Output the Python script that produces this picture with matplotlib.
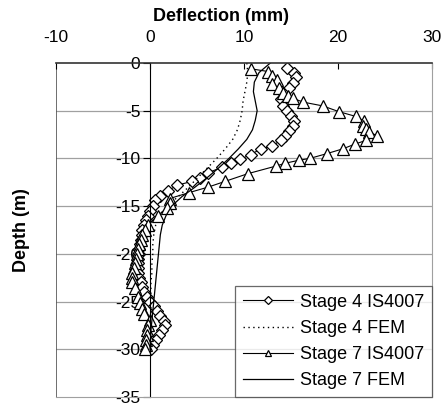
import matplotlib.pyplot as plt

plt.rcParams['font.family'] = ['Liberation Sans', 'DejaVu Sans']
plt.rcParams['axes.unicode_minus'] = False

# Stage 4 IS4007 (diamonds)
s4_depth = [-0.5, -1.0, -1.5, -2.1, -2.6, -3.1, -3.8, -4.5, -5.0, -5.6, -6.1, -6.6, -7.1,
            -7.6, -8.1, -8.7, -9.0, -9.6, -10.1, -10.5, -10.9, -11.5, -12.0, -12.4, -12.8,
            -13.4, -13.9, -14.4, -15.0, -15.5, -16.0, -16.5, -17.0, -17.5, -18.0, -18.5,
            -19.0, -19.5, -20.0, -20.5, -21.0, -21.5, -22.0, -22.5, -23.0, -23.5, -24.0,
            -24.5, -25.0, -25.5, -26.0, -26.5, -27.0, -27.5, -28.0, -28.5, -29.0, -29.5, -30.0]
s4_defl = [14.6, 15.3, 15.5, 15.2, 14.8, 14.2, 13.9, 14.2, 14.6, 15.0, 15.3, 15.2, 14.8,
           14.4, 13.9, 13.0, 11.8, 10.7, 9.6, 8.6, 7.7, 6.2, 5.3, 4.5, 2.9,
           1.9, 1.1, 0.5, 0.3, 0.0, -0.2, -0.4, -0.6, -0.8, -0.9, -1.0,
           -1.1, -1.2, -1.2, -1.3, -1.3, -1.3, -1.3, -1.2, -1.0, -0.9, -0.6,
           -0.3, 0.0, 0.4, 0.7, 1.1, 1.5, 1.6, 1.3, 1.0, 0.6, 0.3, 0.1]

# Stage 4 FEM (dotted)
s4f_depth = [0, -1, -2, -3, -4, -5, -6, -7, -8, -9, -10, -11, -12, -13, -14, -15, -16,
             -17, -18, -19, -20, -21, -22, -23, -24, -25, -26, -27, -28, -29, -30]
s4f_defl = [10.3, 10.4, 10.3, 10.1, 9.9, 9.8, 9.6, 9.3, 8.8, 8.0, 7.1, 6.1, 5.1, 4.1, 3.0,
            1.8, 1.0, 0.6, 0.4, 0.3, 0.3, 0.2, 0.2, 0.1, 0.1, 0.1, 0.1, 0.1, 0.05, 0.0, 0.0]

# Stage 7 IS4007 (triangles)
s7_depth = [-0.6, -0.9, -1.4, -1.8, -2.2, -2.6, -3.1, -3.5, -3.7, -4.1, -4.5, -5.1, -5.6,
            -6.1, -6.6, -6.9, -7.2, -7.6, -8.1, -8.5, -9.0, -9.5, -10.0, -10.2, -10.5,
            -10.8, -11.6, -12.4, -13.0, -13.6, -14.2, -14.7, -15.2, -16.0, -17.0, -17.5,
            -18.0, -18.5, -19.0, -19.5, -20.0, -20.5, -21.0, -21.5, -22.0, -22.5, -23.0,
            -23.6, -24.5, -25.2, -25.8, -26.3, -26.9, -27.5, -28.0, -28.5, -29.0, -29.5, -30.0]
s7_defl = [10.7, 12.6, 13.0, 13.5, 13.0, 13.7, 14.1, 14.7, 15.2, 16.3, 18.4, 20.1, 21.9,
           22.8, 22.7, 23.0, 23.3, 24.1, 23.0, 21.8, 20.5, 18.8, 17.0, 15.8, 14.4,
           13.4, 10.4, 8.0, 6.2, 4.1, 2.1, 2.1, 1.8, 0.8, -0.2, -0.5,
           -0.8, -1.0, -1.2, -1.3, -1.4, -1.5, -1.6, -1.7, -1.9, -1.9, -1.9,
           -1.6, -1.3, -1.1, -0.9, -0.6, 0.0, -0.2, -0.3, -0.3, -0.4, -0.4, -0.5]

# Stage 7 FEM (solid)
s7f_depth = [0, -1, -2, -3, -4, -5, -6, -7, -8, -9, -10, -11, -12, -13, -14, -15, -16,
             -17, -18, -19, -20, -21, -22, -23, -24, -25, -26, -27, -28, -29, -30]
s7f_defl = [12.8, 11.6, 11.1, 11.0, 11.2, 11.4, 11.2, 10.9, 10.3, 9.4, 8.4, 7.3, 6.1, 4.8,
            3.4, 2.3, 1.7, 1.3, 1.1, 1.0, 0.9, 0.8, 0.7, 0.6, 0.5, 0.4, 0.3, 0.2, 0.1, 0.05, 0.0]

fig = plt.figure(figsize=(4.45, 4.08), dpi=100)
ax = fig.add_axes([56 / 445, 11 / 408, 376 / 445, 334 / 408])

ax.plot(s4_defl, s4_depth, color='black', lw=0.8, marker='D', ms=6.5, mfc='white',
        mec='black', mew=0.9, label='Stage 4 IS4007')
ax.plot(s4f_defl, s4f_depth, color='black', lw=1.0, ls=(0, (1, 2.5)), label='Stage 4 FEM')
ax.plot(s7_defl, s7_depth, color='black', lw=0.8, marker='^', ms=8, mfc='white',
        mec='black', mew=0.9, label='Stage 7 IS4007')
ax.plot(s7f_defl, s7f_depth, color='black', lw=0.9, label='Stage 7 FEM')

ax.set_xlim(-10, 30)
ax.set_ylim(-35, 0)
ax.set_xticks([-10, 0, 10, 20, 30])
ax.set_yticks(range(-35, 1, 5))

# horizontal grid
for yv in range(-30, 0, 5):
    ax.axhline(yv, color='#a0a0a0', lw=0.9, zorder=0)

# x axis on top
ax.xaxis.set_ticks_position('top')
ax.xaxis.set_label_position('top')
ax.tick_params(axis='x', direction='in', length=4, pad=13, labelsize=12.5, color='black')
ax.set_xlabel('Deflection (mm)', fontsize=13, fontweight='bold')
ax.xaxis.set_label_coords(0.44, 1.125)

# y axis through x = 0
ax.spines['left'].set_position(('data', 0))
ax.spines['left'].set_color('black')
ax.tick_params(axis='y', direction='out', length=5, pad=2, labelsize=12.5)
ax.axvline(-10, color='#555555', lw=1.2, zorder=1)
ax.spines['top'].set_color('#333333')
ax.spines['top'].set_linewidth(1.2)
ax.spines['right'].set_color('#a0a0a0')
ax.spines['bottom'].set_color('#a0a0a0')
ax.set_ylabel('Depth (m)', fontsize=13, fontweight='bold')
ax.yaxis.set_label_coords(-0.069, 0.5)

leg = ax.legend(loc='lower right', fontsize=13, frameon=True, fancybox=False,
                edgecolor='#444444', handlelength=2.8, handletextpad=0.35,
                borderaxespad=0.0, labelspacing=0.5, markerscale=0.6, borderpad=0.45)
leg.get_frame().set_linewidth(0.9)

fig.savefig('out.png', dpi=100)
